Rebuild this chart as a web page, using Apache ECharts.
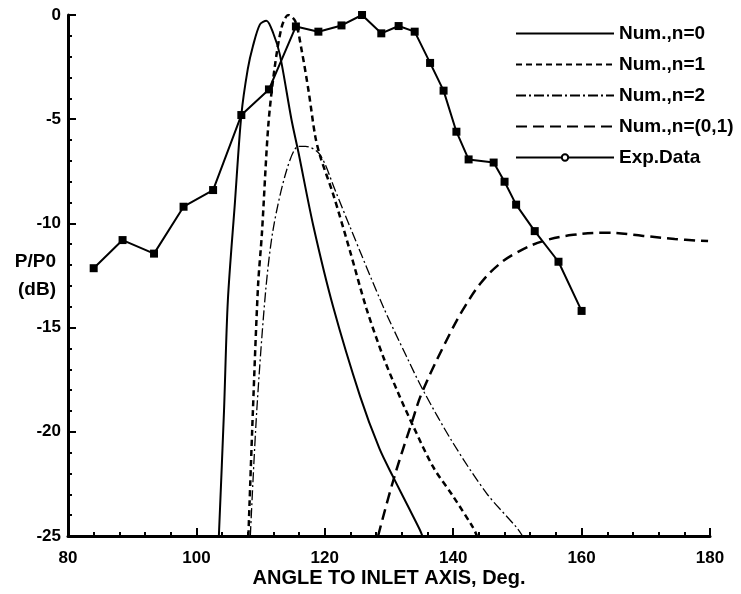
<!DOCTYPE html>
<html>
<head>
<meta charset="utf-8">
<script src="https://cdn.jsdelivr.net/npm/echarts@6/dist/echarts.min.js"></script>
<style>
  html, body { margin: 0; padding: 0; background: #fff; }
  #chart { width: 741px; height: 594px; }
</style>
</head>
<body>
<div id="chart"></div>
<script>
// measured points [angle, dB]
const n0 = [[103.5,-25],[104.3,-19],[104.9,-13.7],[106,-9],[107,-4.8],[108,-2.6],[108.8,-1.5],[109.9,-0.45],[110.9,-0.27],[112,-0.9],[113,-1.9],[114.8,-5],[115.9,-6.6],[118.2,-10.1],[121.3,-14],[125.5,-18.3],[128.5,-20.8],[130.7,-22.2],[133,-23.6],[134.8,-24.7],[135.2,-25]]
const n1 = [[108.1,-25],[108.8,-19],[109.6,-13],[110.2,-10.5],[111.2,-5.3],[112.2,-2.5],[113.3,-0.56],[114.3,0],[115.4,-0.3],[116.4,-1.7],[117.5,-3.7],[118.5,-5.8],[119.3,-6.8],[121.3,-8.6],[123.9,-11.3],[126.5,-14.1],[129.1,-16.4],[131.45,-18.15],[133.8,-19.75],[136.9,-21.7],[140,-23.1],[143.1,-24.6],[143.7,-25]]
const n2 = [[108.4,-25],[109.4,-19],[110.8,-13.2],[112,-10.2],[114.1,-7.4],[115.9,-6.3],[117,-6.3],[119.25,-6.7],[121.6,-8.4],[123.9,-10.15],[129.1,-14],[132.75,-16.4],[135.3,-18],[140,-20.55],[145.2,-22.95],[149.9,-24.6],[150.8,-25]]
const n01 = [[128.3,-25],[130.7,-22.3],[133.5,-19.6],[135.3,-18],[139.8,-15.1],[142,-13.9],[144.2,-12.9],[147,-12],[149.9,-11.4],[154,-10.85],[158.7,-10.55],[163.9,-10.45],[169.6,-10.6],[174.5,-10.75],[179.7,-10.85]]
const expAngle = [84, 88.5, 93.4, 98, 102.6, 107, 111.3, 115.5, 119, 122.6, 125.8, 128.8, 131.5, 134, 136.4, 138.5, 140.5, 142.4, 146.3, 148, 149.8, 152.7, 156.4, 160]
const expDb = [-12.15, -10.8, -11.45, -9.2, -8.4, -4.8, -3.57, -0.55, -0.8, -0.5, 0, -0.88, -0.53, -0.8, -2.3, -3.63, -5.6, -6.93, -7.08, -8, -9.1, -10.37, -11.84, -14.2]
const names = ['Num.,n=0', 'Num.,n=1', 'Num.,n=2', 'Num.,n=(0,1)', 'Exp.Data']

const chart = echarts.init(document.getElementById('chart'))

const font = 'Liberation Sans, Arial, sans-serif'
const curve = (name, data, type, width, smooth) => ({
  name: name,
  type: 'line',
  data: data,
  smooth: smooth,
  symbol: 'none',
  lineStyle: { color: '#000', width: width, type: type },
  itemStyle: { color: '#000' }
})

const expData = expAngle.map((a, i) => ({ value: [a, expDb[i]], symbol: 'rect' }))

const option = {
  animation: false,
  grid: { left: 68, right: 31, top: 15, bottom: 58, outerBoundsMode: 'none' },
  legend: {
    orient: 'vertical',
    left: 510,
    top: 19,
    itemWidth: 98,
    itemHeight: 8,
    itemGap: 12,
    textStyle: { fontFamily: font, fontWeight: 'bold', fontSize: 19, lineHeight: 19, color: '#000' },
    data: names.map((n, i) => i < 4 ? { name: n, itemStyle: { opacity: 0 } } : { name: n })
  },
  xAxis: {
    type: 'value',
    min: 80, max: 180, interval: 20,
    name: 'ANGLE TO INLET AXIS, Deg.',
    nameLocation: 'middle',
    nameGap: 32,
    nameMoveOverlap: false,
    nameTextStyle: { fontFamily: font, fontWeight: 'bold', fontSize: 20, color: '#000' },
    axisLine: { onZero: false, lineStyle: { color: '#000', width: 3 } },
    axisTick: { inside: true, length: 8, lineStyle: { color: '#000', width: 2 } },
    minorTick: { show: true, splitNumber: 5, length: 4, lineStyle: { color: '#000', width: 2 } },
    axisLabel: { margin: 14, fontFamily: font, fontWeight: 'bold', fontSize: 17, color: '#000' },
    splitLine: { show: false }
  },
  yAxis: {
    type: 'value',
    min: -25, max: 0, interval: 5,
    name: 'P/P0\n(dB)',
    nameLocation: 'middle',
    nameRotate: 0,
    nameGap: 12,
    nameMoveOverlap: false,
    nameTextStyle: { fontFamily: font, fontWeight: 'bold', fontSize: 19, color: '#000', lineHeight: 28 },
    axisLine: { onZero: false, lineStyle: { color: '#000', width: 3 } },
    axisTick: { inside: true, length: 8, lineStyle: { color: '#000', width: 2 } },
    minorTick: { show: true, splitNumber: 5, length: 4, lineStyle: { color: '#000', width: 2 } },
    axisLabel: { margin: 7, fontFamily: font, fontWeight: 'bold', fontSize: 17, color: '#000' },
    splitLine: { show: false }
  },
  series: [
    curve(names[0], n0, 'solid', 2, 0.3),
    curve(names[1], n1, [6, 4], 2.5, 0.3),
    curve(names[2], n2, [10, 3, 2, 3], 1.3, 0.3),
    curve(names[3], n01, [11, 6], 2.5, 0.4),
    {
      name: names[4],
      type: 'line',
      data: expData,
      symbol: 'emptyCircle',
      symbolSize: 8,
      clip: false,
      lineStyle: { color: '#000', width: 2 },
      itemStyle: { color: '#000' }
    }
  ]
}
chart.setOption(option)
</script>
</body>
</html>
